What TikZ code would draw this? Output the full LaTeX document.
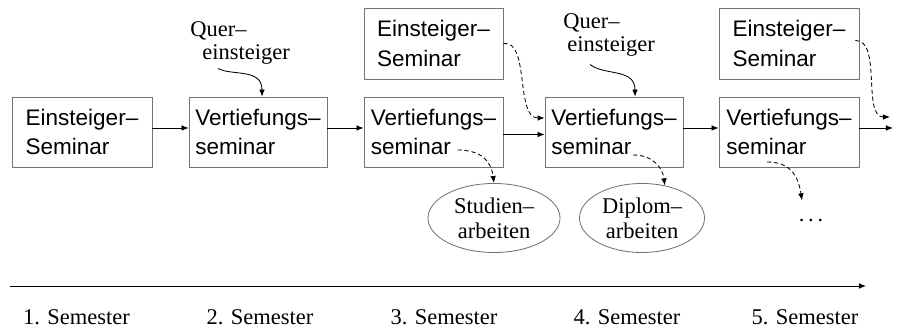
\documentclass[tikz,border=0pt]{standalone}
\usepackage{fontspec}
\setmainfont{Liberation Serif}
\setsansfont{Liberation Sans}
\usetikzlibrary{shapes.geometric,arrows.meta}
\tikzset{
	seminar/.style={draw=black!55, line width=0.6pt, minimum width=3.5cm, minimum height=1.75cm, align=left,
		font=\sffamily\fontsize{16}{21}\selectfont},
	arbeit/.style={ellipse, draw=black!55, line width=0.6pt, minimum width=3.3cm, minimum height=1.725cm, align=center,
		inner sep=0pt, font=\fontsize{16}{18}\selectfont},
	quer/.style={align=left, inner sep=0pt, font=\fontsize{16}{16.5}\selectfont},
	flow/.style={line width=0.6pt, -{Latex[length=5pt,width=4pt]}},
	wahl/.style={flow, densely dashed},
}

\begin{document}
\begin{tikzpicture}[x=0.025cm, y=-0.025cm]
		%%%%% START %%%%%
		\useasboundingbox (0, 0) rectangle (908, 333);
		
		\node[seminar] (e1) at (82, 132) {Einsteiger--\\Seminar};
		\node[seminar, minimum width=3.45cm] (v2) at (258, 132) {Vertiefungs--\\seminar};
		\node[seminar, minimum width=3.475cm] (v3) at (433.5, 132) {Vertiefungs--\\seminar};
		\node[seminar, minimum width=3.475cm, minimum height=1.775cm] (e3) at (433.5, 43.5) {Einsteiger--\\Seminar};
		\node[seminar, minimum width=3.45cm] (v4) at (614, 132) {Vertiefungs--\\seminar};
		\node[seminar] (v5) at (789, 132) {Vertiefungs--\\seminar};
		\node[seminar, minimum height=1.775cm] (e5) at (789, 43.5) {Einsteiger--\\Seminar};
		
		\node[quer, anchor=north west] (q2) at (190, 21) {Quer--\\\hspace*{0.3cm}einsteiger};
		\node[quer, anchor=north west] (q4) at (563, 13) {Quer--\\\hspace*{0.1cm}einsteiger};
		
		\node[arbeit] (s3) at (494, 218) {Studien--\\arbeiten};
		\node[arbeit, minimum width=3.125cm] (d4) at (642, 218) {Diplom--\\arbeiten};
		\node[font=\fontsize{16}{18}\selectfont, inner sep=0pt] (dots5) at (811, 220) {.\,.\,.};
		
		\coordinate (out5) at (893, 128);
		\coordinate (in5) at (890, 117);
		
		% Semesterfolge
		\draw[flow] ([shift={(0,-4)}]e1.east) -- ([shift={(0,-4)}]v2.west);
		\draw[flow] ([shift={(0,-4)}]v2.east) -- ([shift={(0,-4)}]v3.west);
		\draw[flow] ([shift={(0,2.5)}]v3.east) -- ([shift={(0,2.5)}]v4.west);
		\draw[flow] ([shift={(0,-4)}]v4.east) -- ([shift={(0,-4)}]v5.west);
		\draw[flow] ([shift={(0,-4)}]v5.east) -- (out5);
		
		% Quereinsteiger
		\draw[flow] ([shift={(28,4)}]q2.south west) .. controls (232, 76) and (262, 68) .. ([shift={(4,0)}]v2.north);
		\draw[flow] ([shift={(27,8)}]q4.south west) .. controls (605, 76) and (635, 68) .. ([shift={(21,0)}]v4.north);
		
		% Einsteiger-Seminare
		\draw[wahl] (e3.east) .. controls (530, 40) and (515, 118) .. ([shift={(0,-14)}]v4.west);
		\draw[wahl] ([shift={(-4,-3)}]e5.east) .. controls (882, 40) and (862, 117) .. (in5);
		
		% Arbeiten
		\draw[wahl] ([shift={(24,18)}]v3.center) .. controls (480, 150) and (491, 160) .. (s3.north);
		\draw[wahl] ([shift={(19,23)}]v4.center) .. controls (655, 155) and (663, 170) .. (d4.55);
		\draw[wahl] ([shift={(-22,30)}]v5.center) .. controls (790, 162) and (798, 175) .. ([shift={(-9,-18)}]dots5.north);
		
		% Zeitachse
		\coordinate (t0) at (10, 286);
		\coordinate (t1) at (866, 286);
		\draw[line width=0.6pt, -{Latex[length=5pt,width=4pt]}] (t0) -- (t1);
		
		\node[anchor=base, font=\fontsize{16}{18}\selectfont] (sem1) at (76.5, 325) {1. Semester};
		\node[anchor=base, font=\fontsize{16}{18}\selectfont] (sem2) at (260, 325) {2. Semester};
		\node[anchor=base, font=\fontsize{16}{18}\selectfont] (sem3) at (444, 325) {3. Semester};
		\node[anchor=base, font=\fontsize{16}{18}\selectfont] (sem4) at (627, 325) {4. Semester};
		\node[anchor=base, font=\fontsize{16}{18}\selectfont] (sem5) at (805, 325) {5. Semester};
		
		%%%%% END %%%%%
	\end{tikzpicture}
\end{document}
